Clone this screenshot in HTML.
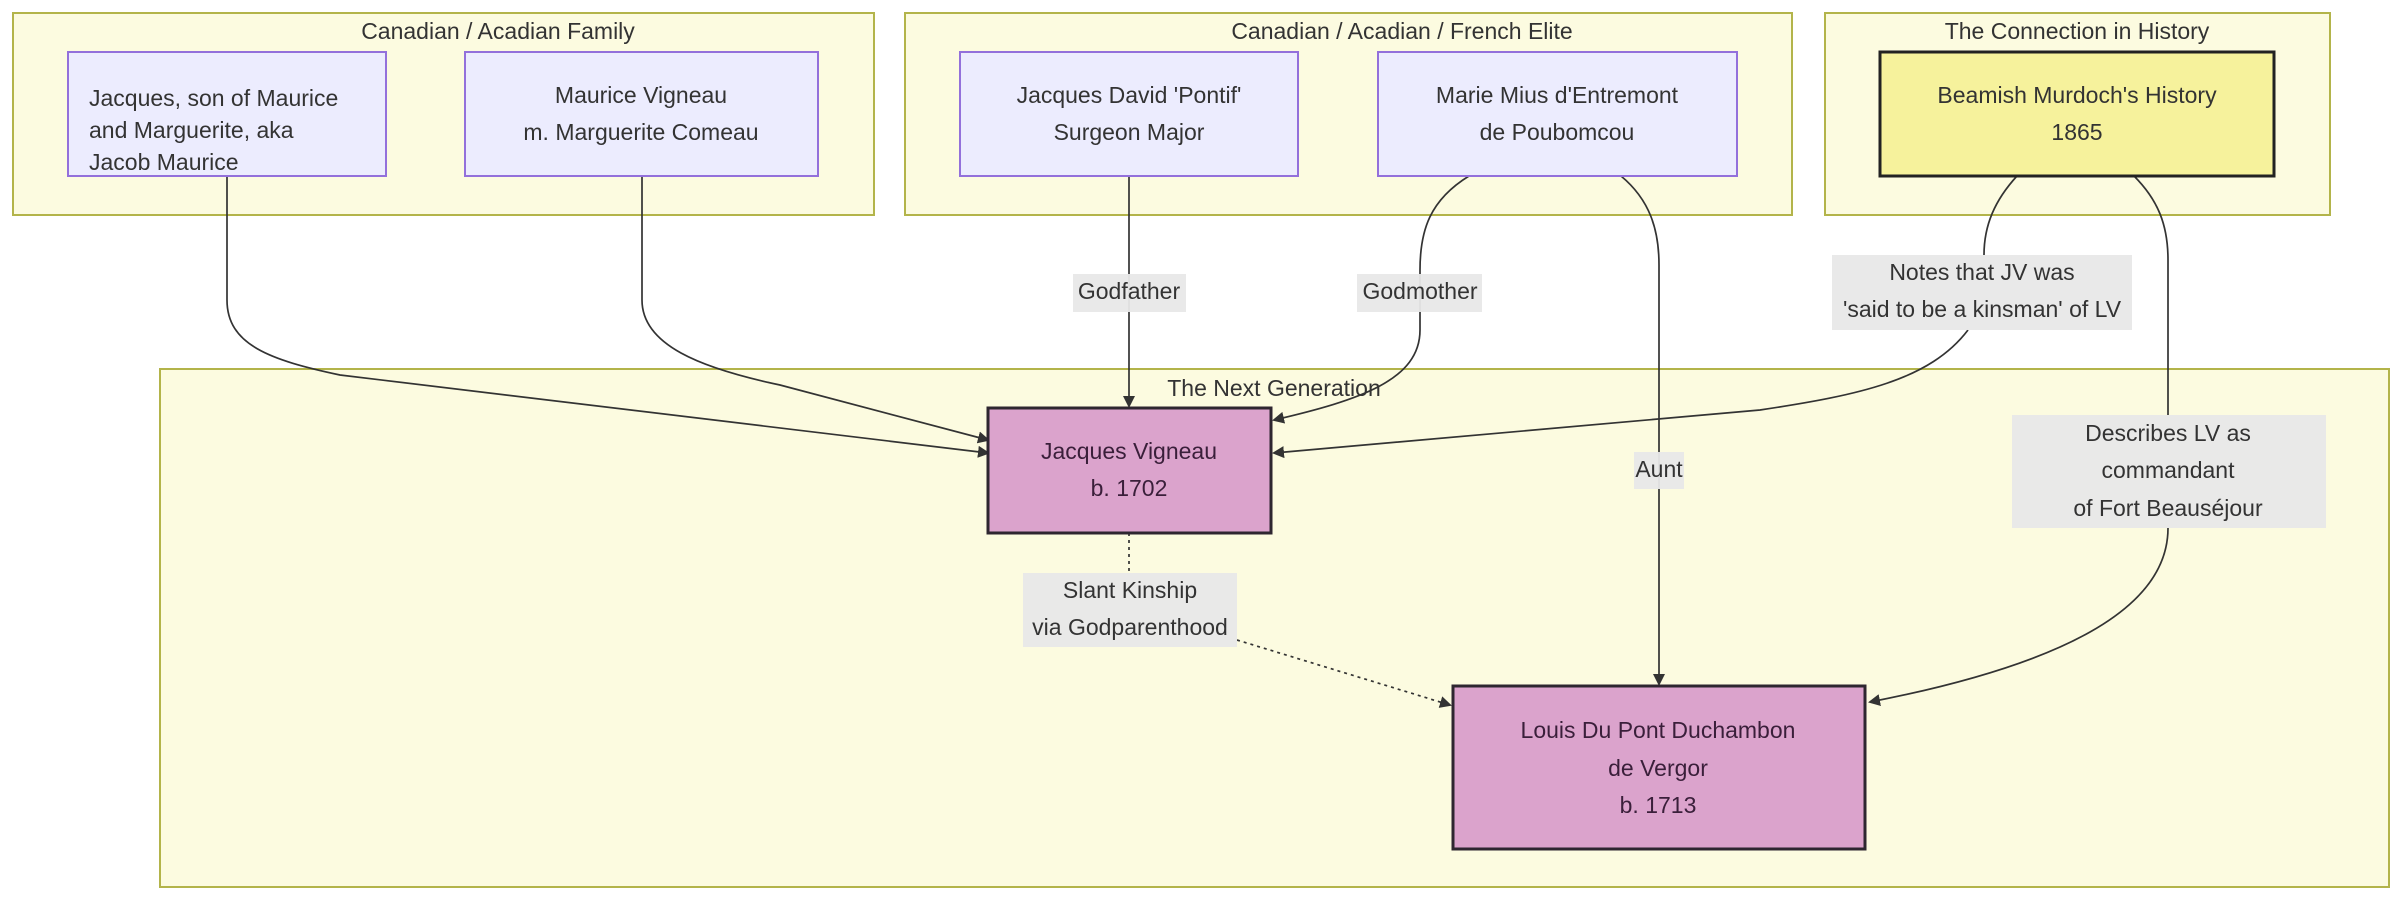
<!DOCTYPE html>
<html><head><meta charset="utf-8"><style>
html,body{margin:0;padding:0;background:#fff;width:2400px;height:901px;overflow:hidden}
text{font-family:"Liberation Sans",sans-serif;font-size:23px;fill:#333;text-anchor:middle;dominant-baseline:middle}
</style></head><body>
<svg width="2400" height="901" viewBox="0 0 2400 901" xmlns="http://www.w3.org/2000/svg">
<defs>
<marker id="ah" markerWidth="12" markerHeight="12" refX="10" refY="6" orient="auto" markerUnits="userSpaceOnUse">
<path d="M0,0 L12,6 L0,12 z" fill="#333"/></marker>
</defs>
<g fill="#fcfbe0" stroke="#b3b44a" stroke-width="2">
<rect x="13" y="13" width="861" height="202"/>
<rect x="905" y="13" width="887" height="202"/>
<rect x="1825" y="13" width="505" height="202"/>
<rect x="160" y="369" width="2229" height="518"/>
</g>
<text x="498" y="33">Canadian / Acadian Family</text>
<text x="1402" y="33">Canadian / Acadian / French Elite</text>
<text x="2077" y="33">The Connection in History</text>
<text x="1274" y="390">The Next Generation</text>

<g fill="none" stroke="#333" stroke-width="1.7">
<path d="M227,176 V300 C227,345 270,360 340,375 L988,453" marker-end="url(#ah)"/>
<path d="M642,176 V300 C642,345 700,368 780,385 L988,440" marker-end="url(#ah)"/>
<path d="M1129,176 V406" marker-end="url(#ah)"/>
<path d="M1469,176 C1430,200 1420,230 1420,270 V330 C1420,380 1360,400 1274,420" marker-end="url(#ah)"/>
<path d="M1621,176 C1650,200 1659,230 1659,265 V684" marker-end="url(#ah)"/>
<path d="M2017,176 C1995,200 1984,225 1984,255 M1968,330 C1930,380 1860,395 1760,410 L1274,453" marker-end="url(#ah)"/>
<path d="M2134,176 C2158,200 2168,225 2168,260 V415 M2168,528 C2168,610 2060,665 1870,702" marker-end="url(#ah)"/>
<path d="M1129,533 V573 M1237,640 L1450,705" stroke-dasharray="3,4" marker-end="url(#ah)"/>
</g>

<g fill="#ececfe" stroke="#9370db" stroke-width="2">
<rect x="68" y="52" width="318" height="124"/>
<rect x="465" y="52" width="353" height="124"/>
<rect x="960" y="52" width="338" height="124"/>
<rect x="1378" y="52" width="359" height="124"/>
</g>
<rect x="1880" y="52" width="394" height="124" fill="#f6f29c" stroke="#222" stroke-width="3"/>
<rect x="988" y="408" width="283" height="125" fill="#dba3cc" stroke="#2e2630" stroke-width="3"/>
<rect x="1453" y="686" width="412" height="163" fill="#dba3cc" stroke="#2e2630" stroke-width="3"/>

<text x="89" y="100" style="text-anchor:start">Jacques, son of Maurice</text>
<text x="89" y="132" style="text-anchor:start">and Marguerite, aka</text>
<text x="89" y="164" style="text-anchor:start">Jacob Maurice</text>
<text x="641" y="97">Maurice Vigneau</text>
<text x="641" y="134">m. Marguerite Comeau</text>
<text x="1129" y="97">Jacques David 'Pontif'</text>
<text x="1129" y="134">Surgeon Major</text>
<text x="1557" y="97">Marie Mius d'Entremont</text>
<text x="1557" y="134">de Poubomcou</text>
<text x="2077" y="97">Beamish Murdoch's History</text>
<text x="2077" y="134">1865</text>
<text x="1129" y="453" style="fill:#3a1f3a">Jacques Vigneau</text>
<text x="1129" y="490" style="fill:#3a1f3a">b. 1702</text>
<text x="1658" y="732" style="fill:#3a1f3a">Louis Du Pont Duchambon</text>
<text x="1658" y="770" style="fill:#3a1f3a">de Vergor</text>
<text x="1658" y="807" style="fill:#3a1f3a">b. 1713</text>

<g fill="#e8e8e8" opacity="0.95">
<rect x="1073" y="274" width="113" height="38"/>
<rect x="1357" y="274" width="125" height="38"/>
<rect x="1832" y="255" width="300" height="75"/>
<rect x="2012" y="415" width="314" height="113"/>
<rect x="1634" y="452" width="50" height="37"/>
<rect x="1023" y="573" width="214" height="74"/>
</g>
<text x="1129" y="293">Godfather</text>
<text x="1420" y="293">Godmother</text>
<text x="1982" y="274">Notes that JV was</text>
<text x="1982" y="311">'said to be a kinsman' of LV</text>
<text x="2168" y="435">Describes LV as</text>
<text x="2168" y="472">commandant</text>
<text x="2168" y="510">of Fort Beauséjour</text>
<text x="1659" y="471">Aunt</text>
<text x="1130" y="592">Slant Kinship</text>
<text x="1130" y="629">via Godparenthood</text>
</svg>
</body></html>
